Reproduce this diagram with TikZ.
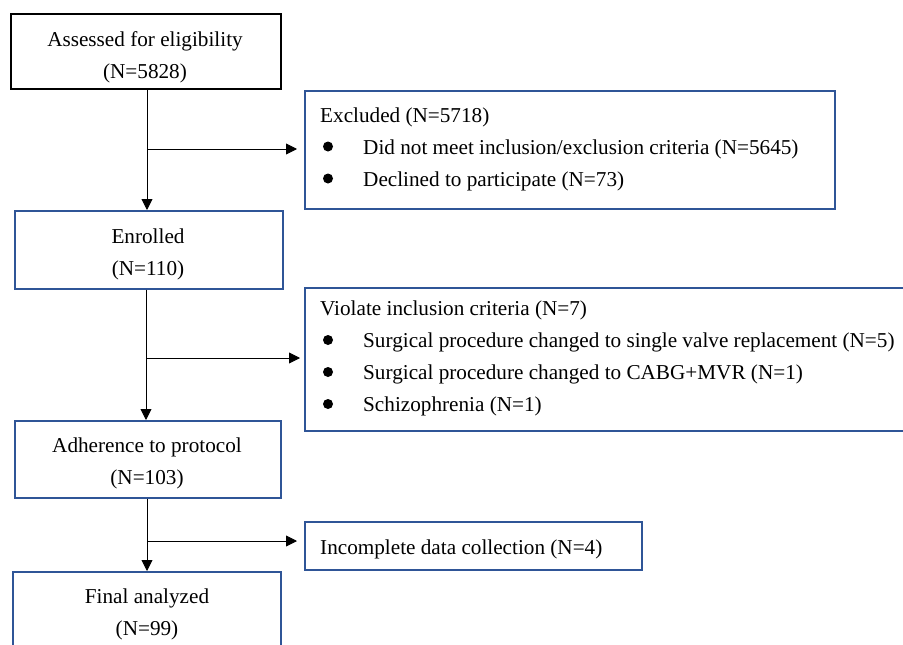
\documentclass[tikz,border=0pt]{standalone}
\usepackage{fontspec}
\setmainfont{Liberation Serif}
\usetikzlibrary{arrows.meta}
\definecolor{boxblue}{RGB}{47,85,151}
\begin{document}
\begin{tikzpicture}[x=1pt,y=-1pt,
  box/.style={draw=boxblue, line width=1.6pt, inner sep=0pt, anchor=north west},
  blackbox/.style={box, draw=black, line width=2pt},
  txt/.style={font=\fontsize{21.2}{25}\selectfont, inner sep=0pt},
  conn/.style={line width=0.9pt, -{Triangle[length=11pt,width=11pt]}},
  bul/.style={fill=black}]
\useasboundingbox (0,0) rectangle (903,645);
\clip (0,0) rectangle (903,645);
% main boxes
\node[blackbox, minimum width=270pt, minimum height=75pt] (assess) at (10,13) {};
\node[box, minimum width=268pt, minimum height=78pt] (enrol) at (14,210) {};
\node[box, minimum width=266pt, minimum height=77pt] (adher) at (14,420) {};
\node[box, minimum width=268pt, minimum height=90pt] (final) at (12,571) {};
% side boxes
\node[box, minimum width=530pt, minimum height=118pt] (excl) at (304,90) {};
\node[box, minimum width=640pt, minimum height=143pt] (viol) at (304,287) {};
\node[box, minimum width=337pt, minimum height=48pt] (incomp) at (304,521) {};
% centred texts
\node[txt, anchor=base] (t1a) at (145,46) {Assessed for eligibility};
\node[txt, anchor=base] (t1b) at (145,78) {(N=5828)};
\node[txt, anchor=base] (t2a) at (148,243) {Enrolled};
\node[txt, anchor=base] (t2b) at (148,275) {(N=110)};
\node[txt, anchor=base] (t3a) at (147,452) {Adherence to protocol};
\node[txt, anchor=base] (t3b) at (147,484) {(N=103)};
\node[txt, anchor=base] (t4a) at (147,603) {Final analyzed};
\node[txt, anchor=base] (t4b) at (147,635) {(N=99)};
% excluded list
\node[txt, anchor=base west] (e0) at (320,122) {Excluded (N=5718)};
\node[txt, anchor=base west] (e1) at (363,154) {Did not meet inclusion/exclusion criteria (N=5645)};
\node[txt, anchor=base west] (e2) at (363,186) {Declined to participate (N=73)};
\fill[bul] (328,146.5) circle (5pt);
\fill[bul] (328,178.5) circle (5pt);
% violate list
\node[txt, anchor=base west] (v0) at (320,315) {Violate inclusion criteria (N=7)};
\node[txt, anchor=base west] (v1) at (363,347) {Surgical procedure changed to single valve replacement (N=5)};
\node[txt, anchor=base west] (v2) at (363,379) {Surgical procedure changed to CABG+MVR (N=1)};
\node[txt, anchor=base west] (v3) at (363,411) {Schizophrenia (N=1)};
\fill[bul] (328,340) circle (5pt);
\fill[bul] (328,372) circle (5pt);
\fill[bul] (328,404) circle (5pt);
% incomplete
\node[txt, anchor=base west] (i0) at (320,554) {Incomplete data collection (N=4)};
% connectors
\coordinate (j1) at (147,149);
\coordinate (j2) at (146,358);
\coordinate (j3) at (147,541);
\draw[conn] (assess.south -| j1) -- (enrol.north -| j1);
\draw[conn] (j1) -- ([xshift=-7pt]excl.west |- j1);
\draw[conn] (enrol.south -| j2) -- (adher.north -| j2);
\draw[conn] (j2) -- ([xshift=-4pt]viol.west |- j2);
\draw[conn] (adher.south -| j3) -- (final.north -| j3);
\draw[conn] (j3) -- ([xshift=-7pt]incomp.west |- j3);
\end{tikzpicture}
\end{document}
